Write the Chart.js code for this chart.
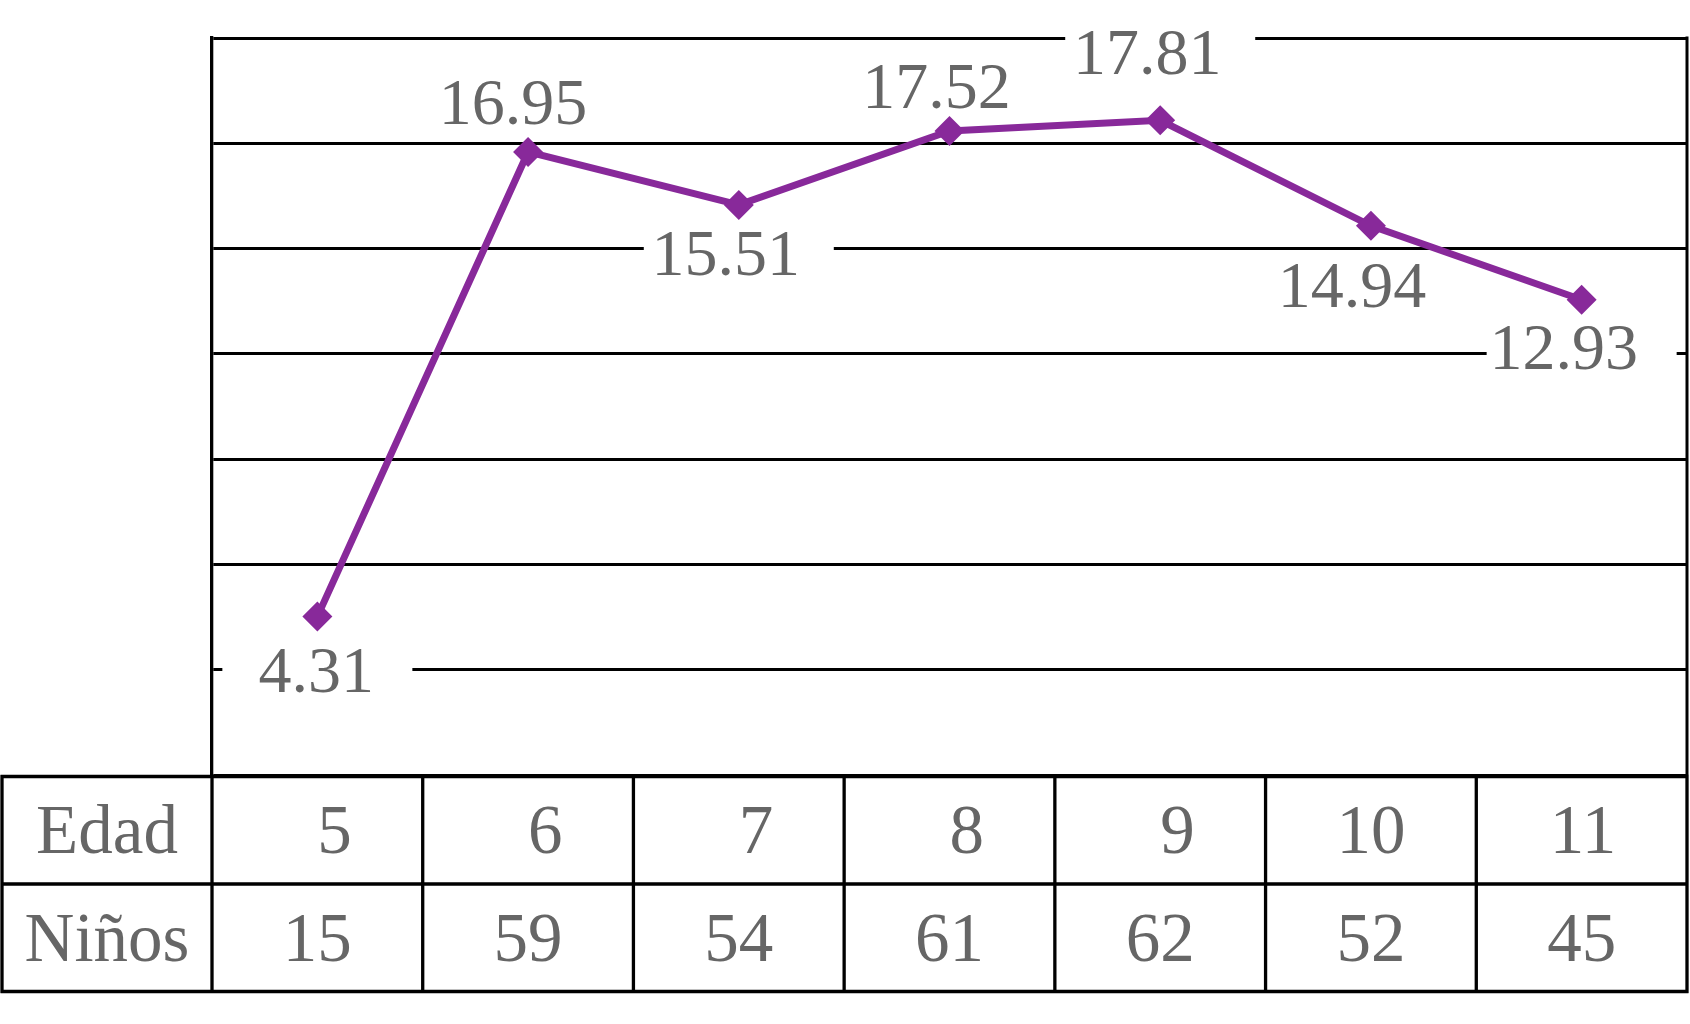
<!DOCTYPE html>
<html lang="es">

<head>
    <meta charset="UTF-8">
    <title>Edad / Niños</title>
    <script src="https://cdn.jsdelivr.net/npm/chart.js@4.4.1/dist/chart.umd.min.js"></script>
    <style>
        html, body { margin: 0; padding: 0; background: #fff; }
        #chart { display: block; }
    </style>
</head>

<body>
    <canvas id="chart" width="1690" height="1024"></canvas>

    <script>
        // data
        const edades = ['5', '6', '7', '8', '9', '10', '11'];
        const promedios = [4.31, 16.95, 15.51, 17.52, 17.81, 14.94, 12.93];
        const ninos = [15, 59, 54, 61, 62, 52, 45];
        const rowTitles = ['Edad', 'Niños'];

        const purple = '#88299A';
        const textGray = '#666666';
        const labelFont = '66px "Liberation Serif", "Times New Roman", serif';
        const tableFont = '69px "Liberation Serif", "Times New Roman", serif';

        // where each value label sits relative to its point (dx, dy)
        const labelPlacement = [[-1, 53], [-15, -50], [-13, 48], [-13, -45], [-13, -68], [-19, 59], [-18, 47]];

        const yMin = 0, yMax = 20.05, yIntervals = 7;

        // value labels on white boxes, drawn under the line
        const valueLabels = {
            id: 'valueLabels',
            beforeDatasetsDraw(chart) {
                const ctx = chart.ctx;
                const pts = chart.getDatasetMeta(0).data;
                ctx.save();
                ctx.font = labelFont;
                pts.forEach((p, i) => {
                    const [dx, dy] = labelPlacement[i];
                    const cy = p.y + dy;
                    ctx.fillStyle = '#fff';
                    ctx.fillRect(p.x - 95, cy - 31, 190, 62);
                    ctx.fillStyle = textGray;
                    ctx.textAlign = 'center';
                    ctx.textBaseline = 'alphabetic';
                    ctx.fillText(promedios[i].toFixed(2), p.x + dx, cy + 22);
                });
                ctx.restore();
            }
        };

        // right border of the plot + the table under it
        const tableBelow = {
            id: 'tableBelow',
            afterDraw(chart) {
                const ctx = chart.ctx;
                const area = chart.chartArea;
                const x = chart.scales.x;
                const colW = (area.right - area.left) / edades.length;
                const left = 2;
                const top = area.bottom;
                const rowH = 107.5;

                ctx.save();
                ctx.strokeStyle = '#000';

                // plot right edge
                ctx.lineWidth = 3;
                ctx.beginPath();
                ctx.moveTo(area.right, area.top - 1.5);
                ctx.lineTo(area.right, area.bottom);
                ctx.stroke();

                // horizontal table lines
                ctx.lineWidth = 3.3;
                ctx.beginPath();
                for (let r = 0; r <= 2; r++) {
                    const y = top + 1.5 + r * rowH;
                    ctx.moveTo(left - 1.5, y);
                    ctx.lineTo(area.right + 1.5, y);
                }
                // vertical table lines
                ctx.moveTo(left, top);
                ctx.lineTo(left, top + 2 * rowH + 3);
                for (let c = 0; c <= edades.length; c++) {
                    const xx = area.left + c * colW;
                    ctx.moveTo(xx, top);
                    ctx.lineTo(xx, top + 2 * rowH + 3);
                }
                ctx.stroke();

                // texts
                ctx.font = tableFont;
                ctx.fillStyle = textGray;
                ctx.textBaseline = 'alphabetic';
                const capHalf = 23;
                const row1 = top + rowH / 2 + 1.5;
                const row2 = top + rowH * 1.5 + 1.5;

                ctx.textAlign = 'center';
                ctx.fillText(rowTitles[0], (left + area.left) / 2, row1 + capHalf);
                ctx.fillText(rowTitles[1], (left + area.left) / 2, row2 + capHalf);

                const twoDigits = ctx.measureText('00').width;
                edades.forEach((e, i) => {
                    const cx = x.getPixelForValue(i);
                    ctx.textAlign = 'right';
                    ctx.fillText(e, cx + twoDigits / 2, row1 + capHalf);
                    ctx.textAlign = 'center';
                    ctx.fillText(String(ninos[i]), cx, row2 + capHalf);
                });
                ctx.restore();
            }
        };

        new Chart(document.getElementById('chart'), {
            type: 'line',
            data: {
                labels: edades,
                datasets: [{
                    data: promedios,
                    borderColor: purple,
                    backgroundColor: purple,
                    borderWidth: 7,
                    pointStyle: 'rectRot',
                    pointRadius: 15,
                    pointBorderWidth: 0,
                    pointBackgroundColor: purple,
                    tension: 0
                }]
            },
            options: {
                responsive: false,
                animation: false,
                layout: {
                    autoPadding: false,
                    padding: { left: 212, right: 3, top: 38, bottom: 249 }
                },
                plugins: {
                    legend: { display: false },
                    tooltip: { enabled: false }
                },
                scales: {
                    x: {
                        display: false,
                        offset: true
                    },
                    y: {
                        min: yMin,
                        max: yMax,
                        afterBuildTicks: (scale) => {
                            const ticks = [];
                            for (let i = 0; i <= yIntervals; i++) {
                                ticks.push({ value: yMin + (yMax - yMin) * i / yIntervals });
                            }
                            scale.ticks = ticks;
                        },
                        ticks: { display: false },
                        grid: { color: '#000', lineWidth: 3, drawTicks: false },
                        border: { display: true, color: '#000', width: 3.3 }
                    }
                }
            },
            plugins: [valueLabels, tableBelow]
        });
    </script>
</body>

</html>
